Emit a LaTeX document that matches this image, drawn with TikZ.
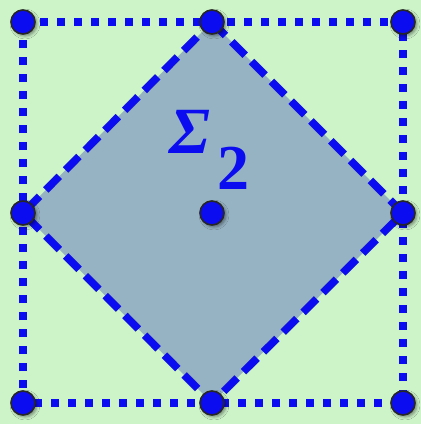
\documentclass[tikz,border=0pt]{standalone}
\usepackage{fontspec}
\newfontfamily\tfont{Liberation Serif}
\usetikzlibrary{shadows.blur}
\definecolor{bg}{HTML}{CDF4C9}
\definecolor{dia}{HTML}{96B3C3}
\definecolor{bl}{HTML}{0C0CF0}
\tikzset{
  pt/.style={circle,fill=bl,draw=black!85,line width=1.6pt,minimum size=24pt,inner sep=0pt,blur shadow={shadow xshift=2pt,shadow yshift=-2pt,shadow opacity=45,shadow blur radius=3pt}},
  dotline/.style={draw=bl,line width=7.5pt,dash pattern=on 8pt off 9pt},
  dashline/.style={draw=bl,line width=7.5pt,dash pattern=on 19pt off 9pt},
  shadowline/.style={draw=black,opacity=0.22,line width=8pt},
  lbl/.style={text=bl,font=\tfont\bfseries\fontsize{64}{64}\selectfont,inner sep=0pt}
}
\begin{document}
\begin{tikzpicture}[x=1pt,y=-1pt]
\fill[bg] (0,0) rectangle (421,424);
\useasboundingbox (0,0) rectangle (421,424);
% coordinates
\coordinate (A) at (23,22);
\coordinate (B) at (212,22);
\coordinate (C) at (403,22);
\coordinate (D) at (23,213);
\coordinate (E) at (212,213);
\coordinate (F) at (403,213);
\coordinate (G) at (23,403);
\coordinate (H) at (212,403);
\coordinate (I) at (403,403);
% diamond
\fill[dia] (B) -- (F) -- (H) -- (D) -- cycle;
% shadows of lines
\begin{scope}[shift={(3,3)}]
\draw[shadowline,dash pattern=on 8pt off 9pt] (A) -- (C) -- (I) -- (G) -- cycle;
\draw[shadowline,dash pattern=on 19pt off 9pt] (B) -- (F) -- (H) -- (D) -- cycle;
\end{scope}
\draw[dotline] (A) -- (C) -- (I) -- (G) -- cycle;
\draw[dashline] (B) -- (F) -- (H) -- (D) -- cycle;
% label
\node[lbl,font=\tfont\bfseries\itshape\fontsize{66}{66}\selectfont] (sig) at (190,132) {Σ};
\node[lbl] (two) at (233,168) {2};
% points
\foreach \p in {A,B,C,D,E,F,G,H,I} \node[pt] (n\p) at (\p) {};
\end{tikzpicture}
\end{document}
